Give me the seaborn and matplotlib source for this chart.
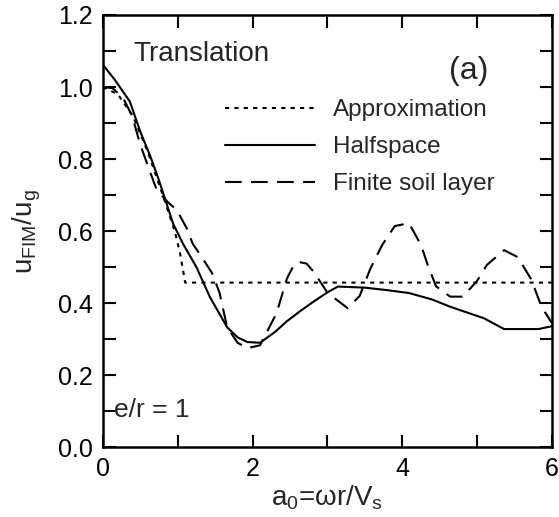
import numpy as np
import pandas as pd
import matplotlib
matplotlib.use("Agg")
import matplotlib.pyplot as plt
import seaborn as sns

# Approximation (dotted)
approx_x = [0.0, 0.2, 0.4, 0.6, 0.8, 0.96, 1.03, 1.1, 6.0]
approx_y = [1.0, 0.98, 0.92, 0.82, 0.70, 0.60, 0.54, 0.457, 0.457]

# Halfspace (solid)
half_x = [0.0, 0.16, 0.36, 0.5, 0.63, 0.74, 0.85, 0.94, 1.07, 1.25, 1.43, 1.66, 1.8, 1.93, 2.1, 2.3, 2.46,
          2.65, 2.82, 3.0, 3.14, 3.5, 3.8, 4.09, 4.4, 4.64, 5.09, 5.36, 5.6, 5.82, 6.0]
half_y = [1.062, 1.02, 0.96, 0.876, 0.81, 0.747, 0.677, 0.62, 0.565, 0.5, 0.417, 0.333, 0.305, 0.292, 0.29, 0.32, 0.35,
          0.38, 0.405, 0.43, 0.446, 0.443, 0.436, 0.428, 0.41, 0.39, 0.358, 0.328, 0.328, 0.328, 0.336]

# Finite soil layer (dashed)
fin_x = [0.0, 0.13, 0.27, 0.39, 0.5, 0.63, 0.72, 0.87, 0.99, 1.12, 1.2, 1.32, 1.46, 1.56, 1.66, 1.8, 1.93, 2.1,
         2.32, 2.46, 2.55, 2.62, 2.72, 2.82, 3.0, 3.27, 3.43, 3.57, 3.73, 3.9, 4.09, 4.25, 4.34, 4.45, 4.64, 4.81,
         5.0, 5.13, 5.36, 5.54, 5.72, 5.86, 6.0]
fin_y = [1.0, 0.997, 0.97, 0.92, 0.84, 0.765, 0.714, 0.68, 0.658, 0.608, 0.565, 0.528, 0.483, 0.428, 0.333, 0.29, 0.275, 0.283,
         0.372, 0.469, 0.505, 0.514, 0.51, 0.486, 0.429, 0.386, 0.42, 0.494, 0.561, 0.614, 0.622, 0.561, 0.506, 0.447, 0.418, 0.418,
         0.462, 0.506, 0.547, 0.528, 0.467, 0.39, 0.344]

labels = ["Approximation", "Halfspace", "Finite soil layer"]

sns.set_style("ticks")
plt.rcParams['font.family'] = ['Liberation Sans', 'DejaVu Sans']
plt.rcParams['mathtext.fontset'] = 'custom'
plt.rcParams['mathtext.rm'] = 'Liberation Sans'
plt.rcParams['mathtext.it'] = 'Liberation Sans'

fig = plt.figure(figsize=(5.59, 5.17), dpi=100)
ax = fig.add_axes([0.184, 0.135, 0.8035, 0.836])

sns.lineplot(x=approx_x, y=approx_y, ax=ax, color='black', lw=1.5, linestyle=(0, (2, 2.5)), label=labels[0])
sns.lineplot(x=half_x, y=half_y, ax=ax, color='black', lw=1.5, linestyle='-', label=labels[1])
sns.lineplot(x=fin_x, y=fin_y, ax=ax, color='black', lw=1.5, linestyle=(0, (8, 4.5)), label=labels[2])

ax.set_xlim(0, 6)
ax.set_ylim(0, 1.2)
ax.set_xticks([0, 2, 4, 6])
ax.set_xticks([1, 3, 5], minor=True)
ax.set_yticks(np.arange(0, 1.21, 0.2))
ax.set_yticks(np.arange(0.1, 1.2, 0.2), minor=True)
ax.set_yticklabels([f"{v:.1f}" for v in np.arange(0, 1.21, 0.2)])
ax.tick_params(which='both', direction='in', top=True, right=True, width=1.5, labelsize=18,
               color='black', labelcolor='black', pad=7)
ax.tick_params(which='major', length=9)
ax.tick_params(which='minor', length=9)
for s in ax.spines.values():
    s.set_linewidth(1.8)
    s.set_color('black')

ax.set_xlabel(r"a$_0$=ωr/V$_\mathrm{s}$", fontsize=20, labelpad=2)
ax.set_ylabel(r"u$_\mathrm{FIM}$/u$_\mathrm{g}$", fontsize=20, labelpad=11)

ax.text(0.067, 0.94, "Translation", transform=ax.transAxes, fontsize=20, va='top', ha='left')
ax.text(0.815, 0.87, "(a)", transform=ax.transAxes, fontsize=23, va='center', ha='center')
ax.text(0.024, 0.058, "e/r = 1", transform=ax.transAxes, fontsize=19, va='bottom', ha='left')

leg = ax.legend(loc='upper left', bbox_to_anchor=(0.272, 0.805), frameon=False, fontsize=17.5,
                handlelength=3.7, handletextpad=0.75, labelspacing=0.62, borderpad=0, borderaxespad=0)

fig.savefig("out.png", dpi=100)
